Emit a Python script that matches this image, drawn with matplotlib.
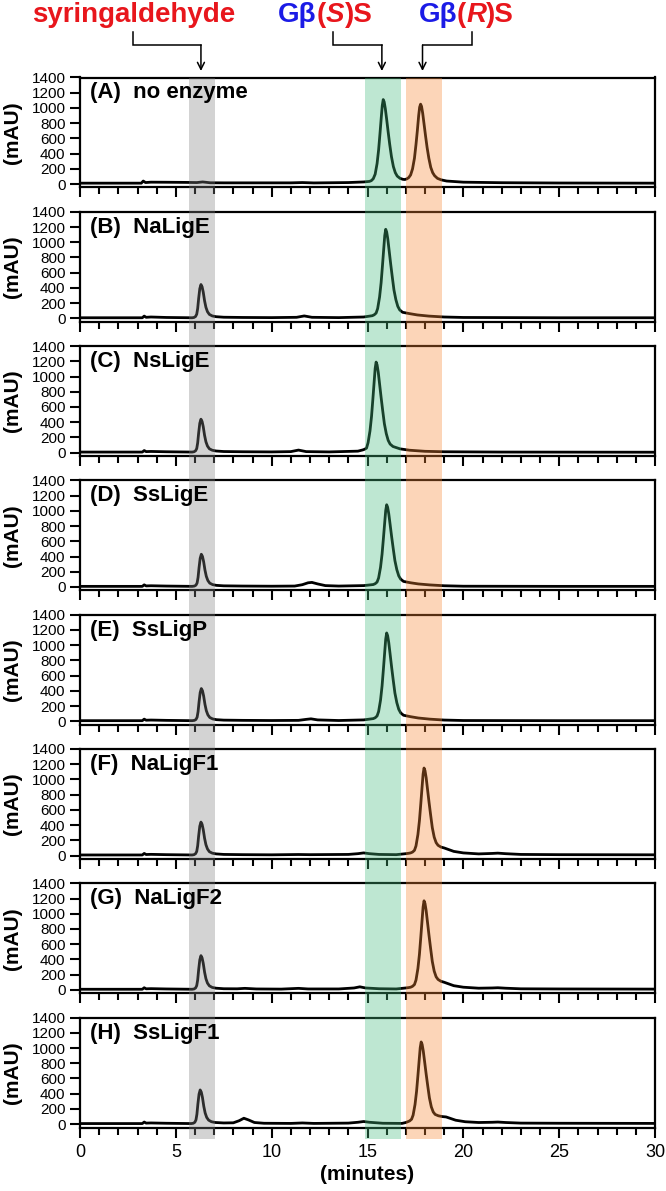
import matplotlib
matplotlib.use("Agg")
import matplotlib.pyplot as plt
from matplotlib.patches import Rectangle
from matplotlib.transforms import blended_transform_factory
from matplotlib.offsetbox import TextArea, HPacker, AnnotationBbox

plt.rcParams['font.family'] = ['Liberation Sans', 'DejaVu Sans']

# ---- data: (minutes, mAU) ----
panel_labels = ['(A)  no enzyme', '(B)  NaLigE', '(C)  NsLigE', '(D)  SsLigE',
                '(E)  SsLigP', '(F)  NaLigF1', '(G)  NaLigF2', '(H)  SsLigF1']

trace_a = [(0, 12), (3.2, 12), (3.3, 40), (3.42, 20), (3.7, 25), (4.5, 24), (5.5, 22),
           (6.1, 20), (6.4, 28), (6.8, 17), (7.5, 16), (9.0, 16), (11.0, 16), (11.6, 20),
           (12.2, 15), (14.0, 20), (14.8, 28), (15.1, 35), (15.2, 45), (15.3, 70),
           (15.4, 130), (15.5, 270), (15.58, 450), (15.65, 660), (15.72, 880),
           (15.77, 1030), (15.82, 1110), (15.87, 1080), (15.93, 990), (16.0, 850),
           (16.08, 680), (16.16, 520), (16.25, 360), (16.35, 230), (16.45, 150),
           (16.55, 105), (16.7, 75), (16.85, 62), (16.95, 60), (17.05, 68), (17.15, 85),
           (17.25, 120), (17.35, 200), (17.45, 340), (17.53, 520), (17.6, 700),
           (17.67, 900), (17.72, 1010), (17.77, 1050), (17.82, 1020), (17.88, 930),
           (17.95, 790), (18.03, 630), (18.11, 480), (18.2, 340), (18.3, 220), (18.4, 150),
           (18.5, 110), (18.65, 75), (18.85, 55), (19.13, 40), (20, 25), (22, 18), (25, 14),
           (30, 12)]

trace_b = [(0, 8), (3.25, 8), (3.35, 30), (3.45, 14), (3.7, 18), (4.5, 12), (5.85, 8),
           (5.95, 12), (6.03, 25), (6.09, 55), (6.14, 130), (6.19, 260), (6.25, 390),
           (6.31, 445), (6.37, 415), (6.43, 345), (6.5, 230), (6.57, 145), (6.65, 88),
           (6.75, 52), (6.9, 32), (7.1, 22), (7.5, 15), (8.5, 12), (10.0, 10), (11.3, 14),
           (11.7, 32), (12.1, 14), (13.5, 10), (14.8, 18), (15.25, 35), (15.35, 47),
           (15.45, 70), (15.53, 129), (15.63, 281), (15.71, 468), (15.78, 690),
           (15.85, 924), (15.9, 1088), (15.95, 1170), (16.0, 1135), (16.06, 1041),
           (16.13, 889), (16.21, 714), (16.29, 550), (16.38, 374), (16.48, 246),
           (16.58, 158), (16.68, 111), (16.83, 80), (17.2, 62), (17.6, 45), (18.2, 30),
           (19.0, 18), (20, 12), (25, 8), (30, 8)]

trace_c = [(0, 8), (3.25, 8), (3.35, 28), (3.45, 14), (3.7, 16), (4.5, 12), (5.85, 8),
           (5.95, 12), (6.03, 25), (6.09, 54), (6.14, 129), (6.19, 257), (6.25, 386),
           (6.31, 440), (6.37, 410), (6.43, 341), (6.5, 227), (6.57, 143), (6.65, 87),
           (6.75, 51), (6.9, 32), (7.1, 22), (7.5, 15), (8.5, 12), (10.0, 10), (11.0, 14),
           (11.4, 34), (11.8, 14), (13.0, 10), (14.5, 20), (14.75, 36), (14.85, 45),
           (14.95, 60), (15.03, 131), (15.13, 286), (15.21, 476), (15.28, 702),
           (15.35, 940), (15.4, 1107), (15.45, 1190), (15.5, 1154), (15.56, 1059),
           (15.63, 904), (15.71, 726), (15.79, 559), (15.88, 381), (15.98, 250),
           (16.08, 161), (16.18, 113), (16.33, 81), (16.7, 50), (17.2, 32), (18.0, 18),
           (19.0, 12), (22, 8), (30, 6)]

trace_d = [(0, 8), (3.25, 8), (3.35, 28), (3.45, 14), (3.7, 16), (4.5, 12), (5.85, 8),
           (5.97, 12), (6.05, 24), (6.11, 53), (6.16, 126), (6.21, 251), (6.27, 377),
           (6.33, 430), (6.39, 401), (6.45, 333), (6.52, 222), (6.59, 140), (6.67, 85),
           (6.77, 50), (6.92, 31), (7.12, 21), (7.5, 15), (8.5, 12), (10.0, 10),
           (11.2, 12), (11.6, 30), (11.9, 55), (12.1, 60), (12.4, 40), (12.8, 18),
           (13.5, 12), (14.8, 18), (15.3, 32), (15.4, 43), (15.5, 65), (15.58, 119),
           (15.68, 259), (15.76, 432), (15.83, 637), (15.9, 853), (15.95, 1004),
           (16.0, 1080), (16.05, 1048), (16.11, 961), (16.18, 821), (16.26, 659),
           (16.34, 508), (16.43, 346), (16.53, 227), (16.63, 146), (16.73, 103),
           (16.88, 73), (17.25, 55), (17.65, 40), (18.25, 27), (19.0, 16), (20, 10),
           (25, 8), (30, 8)]

trace_e = [(0, 8), (3.25, 8), (3.35, 28), (3.45, 14), (3.7, 16), (4.5, 12), (5.85, 8),
           (5.97, 12), (6.05, 24), (6.11, 53), (6.16, 126), (6.21, 251), (6.27, 377),
           (6.33, 430), (6.39, 401), (6.45, 333), (6.52, 222), (6.59, 140), (6.67, 85),
           (6.77, 50), (6.92, 31), (7.12, 21), (7.5, 15), (8.5, 12), (10.0, 10),
           (11.4, 12), (11.8, 25), (12.05, 32), (12.4, 18), (13.5, 10), (14.8, 18),
           (15.3, 35), (15.4, 46), (15.5, 70), (15.58, 128), (15.68, 278), (15.76, 464),
           (15.83, 684), (15.9, 916), (15.95, 1079), (16.0, 1160), (16.05, 1125),
           (16.11, 1032), (16.18, 882), (16.26, 708), (16.34, 545), (16.43, 371),
           (16.53, 244), (16.63, 157), (16.73, 110), (16.88, 79), (17.25, 60),
           (17.65, 43), (18.25, 28), (19.0, 16), (20, 10), (25, 8), (30, 8)]

trace_f = [(0, 8), (3.25, 8), (3.35, 28), (3.45, 14), (3.7, 16), (4.5, 12), (5.85, 8),
           (5.95, 12), (6.03, 25), (6.09, 54), (6.14, 129), (6.19, 257), (6.25, 386),
           (6.31, 440), (6.37, 410), (6.43, 341), (6.5, 227), (6.57, 143), (6.65, 87),
           (6.75, 51), (6.9, 32), (7.1, 22), (7.5, 15), (8.5, 12), (10.0, 10), (11.4, 14),
           (12.0, 12), (14.0, 15), (14.5, 25), (14.8, 35), (15.1, 25), (15.6, 15),
           (16.5, 12), (17.0, 25), (17.15, 30), (17.25, 35), (17.35, 46), (17.45, 69),
           (17.53, 127), (17.63, 276), (17.71, 460), (17.78, 679), (17.85, 909),
           (17.9, 1070), (17.95, 1150), (18.0, 1116), (18.06, 1024), (18.13, 874),
           (18.21, 702), (18.29, 541), (18.38, 368), (18.48, 242), (18.58, 170),
           (18.68, 135), (18.83, 112), (19.0, 100), (19.2, 82), (19.5, 55), (20, 35),
           (20.8, 22), (21.5, 28), (21.8, 32), (22.2, 25), (23, 15), (25, 12), (30, 10)]

trace_g = [(0, 8), (3.25, 8), (3.35, 28), (3.45, 14), (3.7, 16), (4.5, 12), (5.85, 8),
           (5.95, 12), (6.03, 25), (6.09, 56), (6.14, 131), (6.19, 263), (6.25, 394),
           (6.31, 450), (6.37, 420), (6.43, 349), (6.5, 233), (6.57, 147), (6.65, 89),
           (6.75, 53), (6.9, 32), (7.1, 22), (7.5, 15), (8.2, 14), (8.6, 20), (9.2, 12),
           (10.5, 10), (11.4, 20), (11.9, 12), (13.5, 12), (14.3, 25), (14.6, 40),
           (14.9, 25), (15.6, 15), (16.5, 12), (17.0, 25), (17.15, 30), (17.25, 35),
           (17.35, 47), (17.45, 70), (17.53, 129), (17.63, 281), (17.71, 468),
           (17.78, 690), (17.85, 924), (17.9, 1088), (17.95, 1170), (18.0, 1135),
           (18.06, 1041), (18.13, 889), (18.21, 714), (18.29, 550), (18.38, 374),
           (18.48, 246), (18.58, 172), (18.68, 137), (18.83, 113), (19.0, 100),
           (19.2, 82), (19.5, 55), (20, 35), (20.8, 22), (21.5, 25), (21.8, 28),
           (22.2, 22), (23, 14), (25, 12), (30, 10)]

trace_h = [(0, 8), (3.25, 8), (3.35, 28), (3.45, 14), (3.7, 16), (4.5, 12), (5.8, 8),
           (5.91, 12), (5.99, 25), (6.05, 56), (6.1, 131), (6.15, 263), (6.21, 394),
           (6.27, 450), (6.33, 420), (6.39, 349), (6.46, 233), (6.53, 147), (6.61, 89),
           (6.71, 53), (6.86, 32), (7.06, 22), (7.5, 16), (8.0, 18), (8.3, 45),
           (8.55, 78), (8.8, 55), (9.1, 22), (9.6, 12), (11.0, 10), (11.6, 16), (12.2, 10),
           (14.0, 14), (14.5, 25), (14.8, 35), (15.1, 25), (15.8, 12), (16.8, 10),
           (17.0, 22), (17.1, 32), (17.2, 43), (17.3, 65), (17.38, 119), (17.48, 259),
           (17.56, 432), (17.63, 637), (17.7, 853), (17.75, 1004), (17.8, 1080),
           (17.85, 1048), (17.91, 961), (17.98, 821), (18.06, 659), (18.14, 508),
           (18.23, 346), (18.33, 227), (18.43, 160), (18.53, 128), (18.7, 110),
           (18.9, 100), (19.1, 95), (19.3, 78), (19.6, 52), (20.1, 32), (20.8, 22),
           (21.5, 25), (21.8, 28), (22.2, 22), (23, 14), (25, 12), (30, 10)]

traces = [trace_a, trace_b, trace_c, trace_d, trace_e, trace_f, trace_g, trace_h]

# highlighted retention windows (minutes) and colours
bands = [(5.7, 7.05, '#818181'), (14.85, 16.73, '#45bd7e'), (17.0, 18.9, '#f98734')]

# ---- layout in pixels ----
W, H = 666, 1191
fig = plt.figure(figsize=(W / 100, H / 100), dpi=100)
left, right = 80, 655
top0, pitch, ah = 77.5, 134.3, 110.0

axes = []
for i, (lab, tr) in enumerate(zip(panel_labels, traces)):
    top = top0 + i * pitch
    ax = fig.add_axes([left / W, 1 - (top + ah) / H, (right - left) / W, ah / H])
    t = [p[0] for p in tr]
    y = [p[1] for p in tr]
    ax.plot(t, y, color='black', lw=2.0, solid_joinstyle='round')
    ax.set_xlim(0, 30)
    ax.set_ylim(-45, 1400)
    ax.set_yticks(range(0, 1401, 200))
    ax.set_xticks(range(0, 31, 5))
    ax.set_xticks(range(0, 31, 1), minor=True)
    ax.tick_params(axis='x', which='major', direction='out', length=7.5, width=1.5,
                   labelsize=13, pad=4, labelbottom=(i == 7))
    ax.tick_params(axis='x', which='minor', direction='out', length=5, width=1.5)
    ax.tick_params(axis='y', direction='out', length=7.5, width=1.5, labelsize=11, pad=3)
    for s in ax.spines.values():
        s.set_linewidth(1.6)
    ax.set_ylabel('(mAU)', fontweight='bold', fontsize=15)
    ax.yaxis.set_label_coords(-0.1, 0.5)
    # panel label lives on the figure so it sits above the shaded bands
    fig.text(0.017, 0.955, lab, transform=ax.transAxes, fontweight='bold',
             fontsize=16, va='top', ha='left', zorder=8)
    axes.append(ax)

axes[-1].set_xlabel('(minutes)', fontweight='bold', fontsize=15)
axes[-1].xaxis.set_label_coords(0.5, -0.34)

# ---- shaded bands through all panels (drawn over the traces) ----
trans = blended_transform_factory(axes[-1].transData, fig.transFigure)
band_top = 1 - top0 / H
band_bot = 1 - 1139 / H
for x0, x1, c in bands:
    fig.add_artist(Rectangle((x0, band_bot), x1 - x0, band_top - band_bot,
                             transform=trans, facecolor=c, edgecolor='none',
                             alpha=0.35, zorder=5))

# ---- peak annotations at the top ----
red, blue = '#e8161c', '#1b1be6'
ttrans = blended_transform_factory(axes[0].transData, fig.transFigure)
y_text = 1 - 15 / H
y_stem_top = 1 - 32 / H
y_elbow = 1 - 45 / H
y_tip = 1 - 71 / H


def name_box(parts, xc):
    boxes = [TextArea(s, textprops=dict(color=c, fontsize=20, fontweight='bold',
                                        fontstyle=st)) for s, c, st in parts]
    pack = HPacker(children=boxes, align='baseline', pad=0, sep=0)
    ab = AnnotationBbox(pack, (xc, y_text), xycoords=ttrans, frameon=False,
                        box_alignment=(0.5, 0.5), pad=0, annotation_clip=False)
    axes[0].add_artist(ab)


name_box([('syringaldehyde', red, 'normal')], 2.82)
name_box([('G\u03b2', blue, 'normal'), ('(', red, 'normal'), ('S', red, 'italic'),
          (')S', red, 'normal')], 12.8)
name_box([('G\u03b2', blue, 'normal'), ('(', red, 'normal'), ('R', red, 'italic'),
          (')S', red, 'normal')], 20.15)

connectors = [(2.76, 6.31), (13.21, 15.75), (20.46, 17.87)]
for xs, xa in connectors:
    axes[0].plot([xs, xs, xa], [y_stem_top, y_elbow, y_elbow], color='black', lw=1.1,
                 transform=ttrans, clip_on=False, solid_joinstyle='miter')
    axes[0].annotate('', xy=(xa, y_tip), xytext=(xa, y_elbow), xycoords=ttrans,
                     textcoords=ttrans, annotation_clip=False,
                     arrowprops=dict(arrowstyle='->,head_length=0.5,head_width=0.25',
                                     lw=1.1, color='black', shrinkA=0, shrinkB=0))

fig.savefig('out.png', dpi=100)
